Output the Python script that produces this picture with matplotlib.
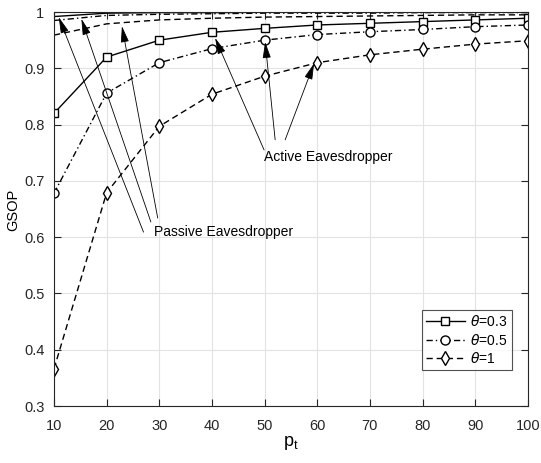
import matplotlib
matplotlib.use("Agg")
import matplotlib.pyplot as plt

plt.rcParams['font.family'] = ['Liberation Sans', 'DejaVu Sans']
plt.rcParams['mathtext.fontset'] = 'dejavusans'

pt = [10, 20, 30, 40, 50, 60, 70, 80, 90, 100]
# Active eavesdropper
act_03 = [0.820, 0.920, 0.950, 0.964, 0.971, 0.977, 0.980, 0.983, 0.986, 0.989]
act_05 = [0.678, 0.856, 0.910, 0.935, 0.950, 0.960, 0.965, 0.969, 0.974, 0.977]
act_1 = [0.366, 0.679, 0.797, 0.854, 0.886, 0.910, 0.924, 0.934, 0.943, 0.949]
# Passive eavesdropper
pas_03 = [0.992, 0.998, 0.999, 0.999, 0.9995, 0.9995, 1.0, 1.0, 1.0, 1.0]
pas_05 = [0.985, 0.994, 0.996, 0.997, 0.998, 0.998, 0.998, 0.999, 0.999, 0.999]
pas_1 = [0.959, 0.979, 0.986, 0.989, 0.991, 0.992, 0.993, 0.994, 0.995, 0.995]

labels = [r'$\theta$=0.3', r'$\theta$=0.5', r'$\theta$=1']

fig = plt.figure(figsize=(5.41, 4.63), dpi=100)
ax = fig.add_axes([0.0998, 0.123, 0.876, 0.851])

lw = 1.0
dash = (0, (4.5, 2.8))
dashdot = (0, (4.5, 2.2, 1.0, 2.2))
ax.plot(pt, act_03, linestyle='-', color='black', lw=lw, marker='s', ms=6, mfc='white', mew=1, label=labels[0])
ax.plot(pt, act_05, linestyle=dashdot, color='black', lw=lw, marker='o', ms=6.5, mfc='white', mew=1, label=labels[1])
ax.plot(pt, act_1, linestyle=dash, color='black', lw=lw, marker='d', ms=7, mfc='white', mew=1, label=labels[2])
ax.plot(pt, pas_03, linestyle='-', color='black', lw=lw)
ax.plot(pt, pas_05, linestyle=dashdot, color='black', lw=lw)
ax.plot(pt, pas_1, linestyle=dash, color='black', lw=lw)

aprops = dict(arrowstyle='-|>,head_length=1.0,head_width=0.25', color='black', lw=0.6,
              shrinkA=0, shrinkB=0)
# Passive arrows
for (hx, hy), (tx, ty) in [((10.9, 0.991), (27.0, 0.609)),
                           ((15.2, 0.988), (28.4, 0.627)),
                           ((22.9, 0.975), (29.7, 0.634))]:
    ax.annotate('', xy=(hx, hy), xytext=(tx, ty), arrowprops=aprops)
ax.text(29.0, 0.609, 'Passive Eavesdropper', fontsize=10, va='center', ha='left')
# Active arrows
for (hx, hy), (tx, ty) in [((40.6, 0.954), (49.9, 0.755)),
                           ((50.1, 0.947), (52.0, 0.773)),
                           ((59.4, 0.909), (53.9, 0.773))]:
    ax.annotate('', xy=(hx, hy), xytext=(tx, ty), arrowprops=aprops)
ax.text(49.9, 0.742, 'Active Eavesdropper', fontsize=10, va='center', ha='left')

ax.set_xlim(10, 100)
ax.set_ylim(0.3, 1.0)
ax.set_xticks(pt)
ax.set_yticks([0.3, 0.4, 0.5, 0.6, 0.7, 0.8, 0.9, 1.0])
ax.set_yticklabels(['0.3', '0.4', '0.5', '0.6', '0.7', '0.8', '0.9', '1'])
ax.grid(True, color='#e3e3e3', lw=0.8)
ax.set_axisbelow(True)
ax.tick_params(direction='in', top=True, right=True, labelsize=10.5, length=5, colors='#262626')
ax.tick_params(axis='x', pad=9)
ax.tick_params(axis='y', pad=7)
for s in ax.spines.values():
    s.set_color('#262626')
    s.set_linewidth(0.8)
ax.set_xlabel(r'$\mathregular{p_t}$', fontsize=13, va='center')
ax.xaxis.set_label_coords(0.5, -0.094)
ax.set_ylabel('GSOP', fontsize=10.5, va='center')
ax.yaxis.set_label_coords(-0.087, 0.497)

leg = ax.legend(loc='lower right', bbox_to_anchor=(0.966, 0.091), fontsize=10, frameon=True,
                fancybox=False, edgecolor='#262626', handlelength=2.8, borderpad=0.3,
                labelspacing=0.25, handletextpad=0.4, borderaxespad=0)
leg.get_frame().set_linewidth(0.8)

fig.savefig('out.png', dpi=100)
